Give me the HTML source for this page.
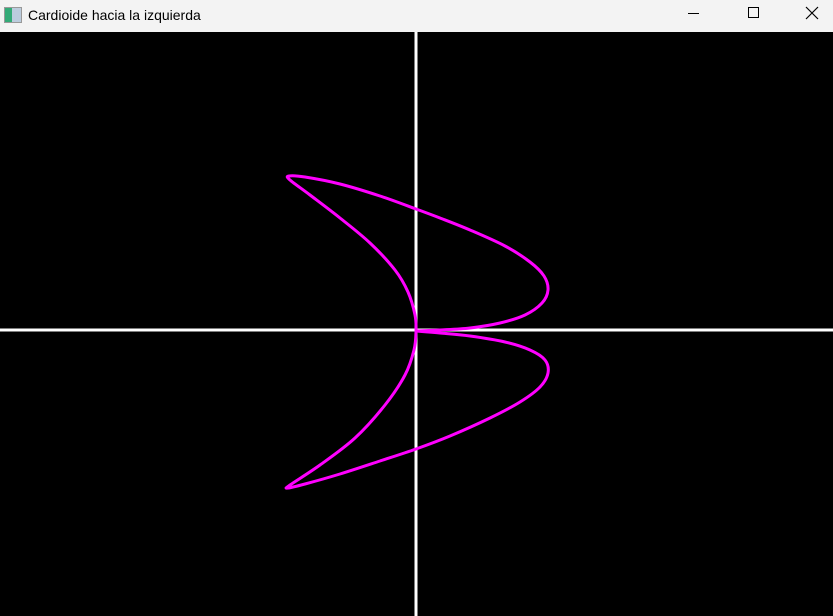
<!DOCTYPE html>
<html><head><meta charset="utf-8"><style>
html,body{margin:0;padding:0;width:833px;height:616px;overflow:hidden;background:#000}
#title{position:absolute;left:0;top:0;width:833px;height:32px;background:#f3f3f3;font-family:"Liberation Sans",sans-serif;font-size:14px;color:#000}
#title span{position:absolute;left:28px;top:7px}
#icon{position:absolute;left:4px;top:7px;width:16px;height:14px;border:1px solid #999;background:linear-gradient(90deg,#3a7 0 45%,#bcd 45%)}
.btn{position:absolute;top:0;width:46px;height:32px}
svg{position:absolute;left:0;top:32px}
</style></head><body>
<div id="title">
<div id="icon"></div>
<span>Cardioide hacia la izquierda</span>
<div class="btn" style="left:670px"><div style="position:absolute;left:18px;top:13px;width:11px;height:1px;background:#000"></div></div>
<div class="btn" style="left:730px"><div style="position:absolute;left:18px;top:7px;width:9px;height:9px;border:1px solid #000"></div></div>
<div class="btn" style="left:788px"><svg width="14" height="14" style="left:17px;top:6px"><path d="M1 1L13 13M13 1L1 13" stroke="#000" stroke-width="1.2"/></svg></div>
</div>
<svg id="plot" width="833" height="584"></svg>
<script>
const xs=[0,24,54,84,109,126,132,128,114,89,54,24,0,-36,-76,-111,-127,-126,-106,-76,-46,-21,-8,-1,0,-2,-11,-31,-61,-96,-126,-128,-111,-76,-36,0,34,74,104,124,132,129,114,89,54,24,0];
const ys=[0,1,3,8,16,28,41,55,69,85,101,113,122,135,147,154,155,151,136,113,88,61,39,16,0,-19,-44,-74,-107,-134,-154,-157,-153,-143,-130,-118,-105,-87,-71,-56,-42,-29,-19,-11,-5,-2,0];
const svg=document.getElementById('plot');
const NS='http://www.w3.org/2000/svg';
const ox=416, oy=331-32;
const sx=v=>ox+v, sy=v=>oy-v;
function ln(x1,y1,x2,y2,name){const l=document.createElementNS(NS,'line');
l.setAttribute('x1',x1);l.setAttribute('y1',y1);l.setAttribute('x2',x2);l.setAttribute('y2',y2);
l.setAttribute('stroke','#fff');l.setAttribute('stroke-width','3');


svg.appendChild(l);}
ln(0,oy-1,833,oy-1,'x-axis');
ln(ox,0,ox,584,'y-axis');
// Catmull-Rom smooth path
const P=xs.map((x,i)=>[sx(x),sy(ys[i])]);
let d='M'+P[0][0]+' '+P[0][1];
for(let i=0;i<P.length-1;i++){const p0=P[Math.max(i-1,0)],p1=P[i],p2=P[i+1],p3=P[Math.min(i+2,P.length-1)];
d+=' C'+(p1[0]+(p2[0]-p0[0])/6)+' '+(p1[1]+(p2[1]-p0[1])/6)+' '+(p2[0]-(p3[0]-p1[0])/6)+' '+(p2[1]-(p3[1]-p1[1])/6)+' '+p2[0]+' '+p2[1];}
const c=document.createElementNS(NS,'path');
c.setAttribute('d',d);c.setAttribute('fill','none');c.setAttribute('stroke','#ff00ff');c.setAttribute('stroke-width','3');c.setAttribute('stroke-linejoin','round');


svg.appendChild(c);
</script>
</body></html>
